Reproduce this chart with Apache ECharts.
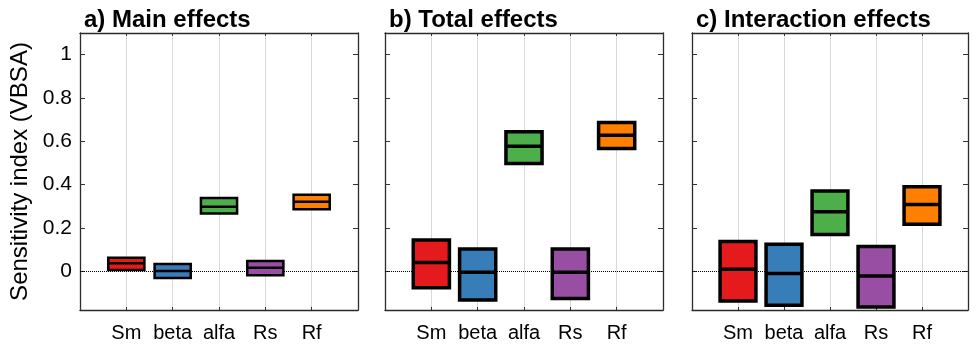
<!DOCTYPE html>
<html>
<head>
<meta charset="utf-8">
<script src="https://cdn.jsdelivr.net/npm/echarts@6/dist/echarts.min.js"></script>
<style>
html,body{margin:0;padding:0;background:#fff;}
#chart{width:977px;height:344px;}
</style>
</head>
<body>
<div id="chart"></div>
<script>
// ---- data ----
var categories = ['Sm', 'beta', 'alfa', 'Rs', 'Rf'];
var boxColors = ['#e41a1c', '#377eb8', '#4daf4a', '#984ea3', '#ff7f00'];
var panelTitles = ['a) Main effects', 'b) Total effects', 'c) Interaction effects'];
var yTickValues = [0, 0.2, 0.4, 0.6, 0.8, 1];
var yTickLabels = ['0', '0.2', '0.4', '0.6', '0.8', '1'];
var yName = 'Sensitivity index (VBSA)';

var mainLow  = [0.005, -0.032, 0.266, -0.019, 0.285];
var mainMed  = [0.036,  0.000, 0.297,  0.015, 0.320];
var mainHigh = [0.062,  0.032, 0.337,  0.047, 0.352];

var totalLow  = [-0.077, -0.134, 0.497, -0.127, 0.566];
var totalMed  = [ 0.040, -0.006, 0.577, -0.006, 0.628];
var totalHigh = [ 0.143,  0.102, 0.644,  0.102, 0.687];

var interLow  = [-0.138, -0.158, 0.169, -0.166, 0.216];
var interMed  = [ 0.008, -0.011, 0.274, -0.023, 0.308];
var interHigh = [ 0.136,  0.124, 0.370,  0.113, 0.390];

// ---- layout ----
var FONT = '"Liberation Sans", Arial, Helvetica, sans-serif';
var Y_MIN = -0.18, Y_MAX = 1.1;
var HALF = 0.39;
var FRAME = {show: true, onZero: false, lineStyle: {color: '#2b2b2b', width: 1.3}};
var panels = [
  {left: 80, width: 278, low: mainLow, med: mainMed, high: mainHigh, lw: 2.5},
  {left: 385, width: 278, low: totalLow, med: totalMed, high: totalHigh, lw: 3.5},
  {left: 692, width: 276, low: interLow, med: interMed, high: interHigh, lw: 3.5}
];
var GRID_TOP = 33, GRID_H = 277;

var option = {
  backgroundColor: '#fff',
  animation: false,
  title: [],
  grid: [],
  xAxis: [],
  yAxis: [],
  series: []
};

panels.forEach(function (p, i) {
  option.title.push({
    text: panelTitles[i],
    left: p.left - 1,
    top: 3,
    textStyle: {fontFamily: FONT, fontWeight: 'bold', fontSize: 24, color: '#000'}
  });
  option.grid.push({
    left: p.left, top: GRID_TOP, width: p.width, height: GRID_H, show: false
  });
  // bottom x axis
  option.xAxis.push({
    type: 'value', gridIndex: i, min: 0, max: 6, interval: 1, position: 'bottom',
    axisLine: FRAME,
    axisTick: {show: true, inside: true, length: 3, lineStyle: {color: '#333'}},
    splitLine: {show: true, lineStyle: {color: '#d9d9d9', width: 1}},
    axisLabel: {
      show: true, margin: 13, fontFamily: FONT, fontSize: 20, color: '#000',
      formatter: function (v) { return (v >= 1 && v <= 5) ? categories[v - 1] : ''; }
    }
  });
  // top x axis (ticks only)
  option.xAxis.push({
    type: 'value', gridIndex: i, min: 0, max: 6, interval: 1, position: 'top',
    axisLine: FRAME,
    axisTick: {show: true, inside: true, length: 3, lineStyle: {color: '#333'}},
    splitLine: {show: false},
    axisLabel: {show: false}
  });
  // left y axis
  option.yAxis.push({
    type: 'value', gridIndex: i, min: Y_MIN, max: Y_MAX, position: 'left',
    name: i === 0 ? yName : '',
    nameLocation: 'middle', nameGap: 48, nameRotate: 90,
    nameTextStyle: {fontFamily: FONT, fontSize: 24, color: '#000'},
    axisLine: FRAME,
    axisTick: {show: true, inside: true, length: 5, customValues: yTickValues, lineStyle: {color: '#333'}},
    splitLine: {show: false},
    axisLabel: {
      show: i === 0, margin: 8, fontFamily: FONT, fontSize: 21, color: '#000',
      customValues: yTickValues,
      formatter: function (v) {
        var k = yTickValues.indexOf(Math.round(v * 10) / 10);
        return k >= 0 ? yTickLabels[k] : '';
      }
    }
  });
  // right y axis (ticks only)
  option.yAxis.push({
    type: 'value', gridIndex: i, min: Y_MIN, max: Y_MAX, position: 'right',
    axisLine: FRAME,
    axisTick: {show: true, inside: true, length: 5, customValues: yTickValues, lineStyle: {color: '#333'}},
    splitLine: {show: false},
    axisLabel: {show: false}
  });

  var data = categories.map(function (c, k) {
    return [k + 1, p.low[k], p.med[k], p.high[k]];
  });
  var lw = p.lw;
  option.series.push({
    type: 'custom',
    xAxisIndex: i * 2,
    yAxisIndex: i * 2,
    data: data,
    encode: {x: 0, y: [1, 2, 3]},
    clip: false,
    renderItem: function (params, api) {
      var x = api.value(0), lo = api.value(1), md = api.value(2), hi = api.value(3);
      var a = api.coord([x - HALF, hi]);
      var b = api.coord([x + HALF, lo]);
      var m1 = api.coord([x - HALF, md]);
      var m2 = api.coord([x + HALF, md]);
      return {
        type: 'group',
        children: [
          {type: 'rect', shape: {x: a[0], y: a[1], width: b[0] - a[0], height: b[1] - a[1]},
           style: {fill: boxColors[params.dataIndex], stroke: '#000', lineWidth: lw}},
          {type: 'line', shape: {x1: m1[0], y1: m1[1], x2: m2[0], y2: m2[1]},
           style: {stroke: '#000', lineWidth: lw}}
        ]
      };
    },
    markLine: {
      silent: true,
      symbol: ['none', 'none'],
      label: {show: false},
      lineStyle: {type: 'dotted', color: '#000', width: 1},
      data: [{yAxis: 0}],
      z: 1
    },
    z: 3
  });
});

var chart = echarts.init(document.getElementById('chart'), null, {renderer: 'canvas'});
chart.setOption(option);
</script>
</body>
</html>
